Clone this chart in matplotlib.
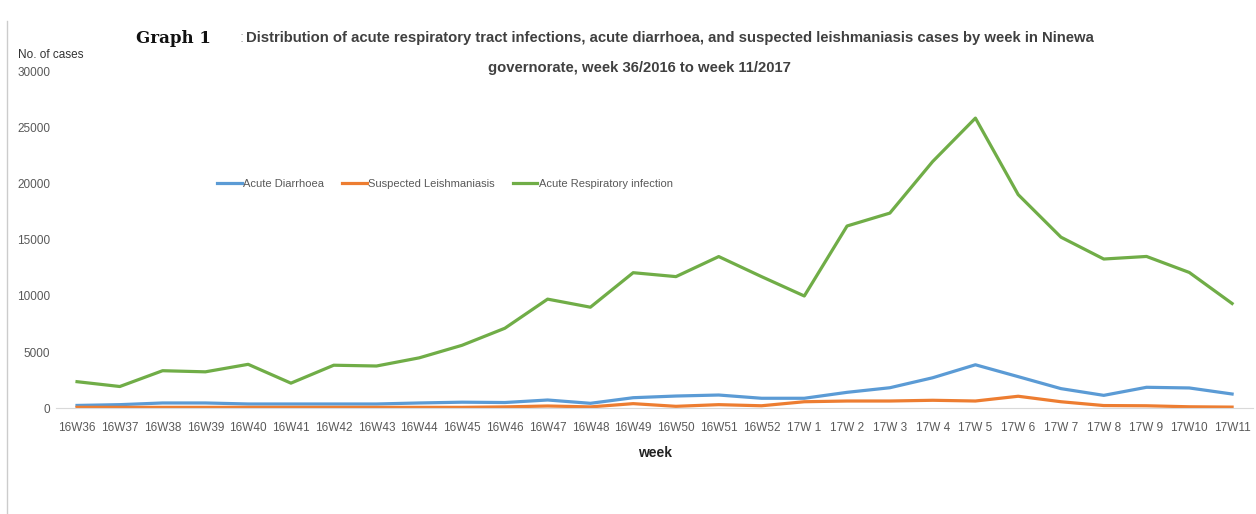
import numpy as np
from matplotlib import pyplot as plt
from matplotlib.lines import Line2D

weeks = ['16W36', '16W37', '16W38', '16W39', '16W40', '16W41', '16W42', '16W43',
         '16W44', '16W45', '16W46', '16W47', '16W48', '16W49', '16W50', '16W51',
         '16W52', '17W 1', '17W 2', '17W 3', '17W 4', '17W 5', '17W 6', '17W 7',
         '17W 8', '17W 9', '17W10', '17W11']

diarrhoea = [230, 300, 450, 450, 360, 360, 360, 360, 450, 520, 490, 715, 420, 920,
             1070, 1160, 870, 870, 1400, 1810, 2700, 3860, 2800, 1730, 1130, 1850,
             1790, 1250]
leish = [60, 60, 60, 60, 60, 60, 60, 60, 60, 60, 100, 180, 100, 390, 150, 300,
         200, 560, 625, 625, 690, 625, 1050, 560, 220, 200, 110, 80]
respiratory = [2350, 1920, 3330, 3230, 3900, 2220, 3820, 3750, 4480, 5600, 7120,
               9720, 9000, 12080, 11730, 13520, 11730, 10000, 16250, 17400, 22000,
               25880, 19050, 15250, 13300, 13530, 12100, 9330]

series_names = ['Acute Diarrhoea', 'Suspected Leishmaniasis', 'Acute Respiratory infection']
colors = ['#5B9BD5', '#ED7D31', '#70AD47']

plt.rcParams['font.family'] = ['Liberation Sans', 'DejaVu Sans']

fig = plt.figure(figsize=(12.56, 5.14), dpi=100)
ax = fig.add_axes([0.0443, 0.2062, 0.9537, 0.6538])

x = np.arange(len(weeks))
for vals, name, c in zip([diarrhoea, leish, respiratory], series_names, colors):
    ax.plot(x, vals, color=c, lw=2.3, label=name, solid_joinstyle='round')

ax.set_xlim(-0.5, len(weeks) - 0.5)
ax.set_ylim(0, 30000)
ax.set_yticks(np.arange(0, 30001, 5000))
ax.set_xticks(x)
ax.set_xticklabels(weeks)
ax.tick_params(axis='both', length=0, labelsize=8.5, colors='#595959')
ax.tick_params(axis='x', pad=10)
ax.tick_params(axis='y', pad=4)
for s in ['top', 'right', 'left']:
    ax.spines[s].set_visible(False)
ax.spines['bottom'].set_color('#d9d9d9')

ax.set_xlabel('week', fontsize=10, fontweight='bold', color='#222222', labelpad=9)
fig.text(0.014, 0.888, 'No. of cases', fontsize=8.5, color='#333333')

leg = ax.legend(loc='center', bbox_to_anchor=(0.325, 0.667), ncol=3, frameon=False,
                fontsize=8, handlelength=2.2, columnspacing=1.6, handletextpad=0.15)
for t in leg.get_texts():
    t.set_color('#595959')

fig.text(0.1377, 0.926, 'Graph 1', fontsize=12, fontweight='bold', family='DejaVu Serif',
         color='#111111', va='center', ha='center')
fig.text(0.191, 0.926, ':', fontsize=11, color='#aaaaaa', va='center')
fig.text(0.533, 0.926, 'Distribution of acute respiratory tract infections, acute diarrhoea, '
         'and suspected leishmaniasis cases by week in Ninewa',
         fontsize=10.7, fontweight='bold', color='#404040', ha='center', va='center')
fig.text(0.509, 0.868, 'governorate, week 36/2016 to week 11/2017',
         fontsize=10.7, fontweight='bold', color='#404040', ha='center', va='center')

fig.add_artist(Line2D([0.0056, 0.0056], [0.0, 0.96], color='#cccccc', lw=1))

fig.savefig('out.png', dpi=100)
